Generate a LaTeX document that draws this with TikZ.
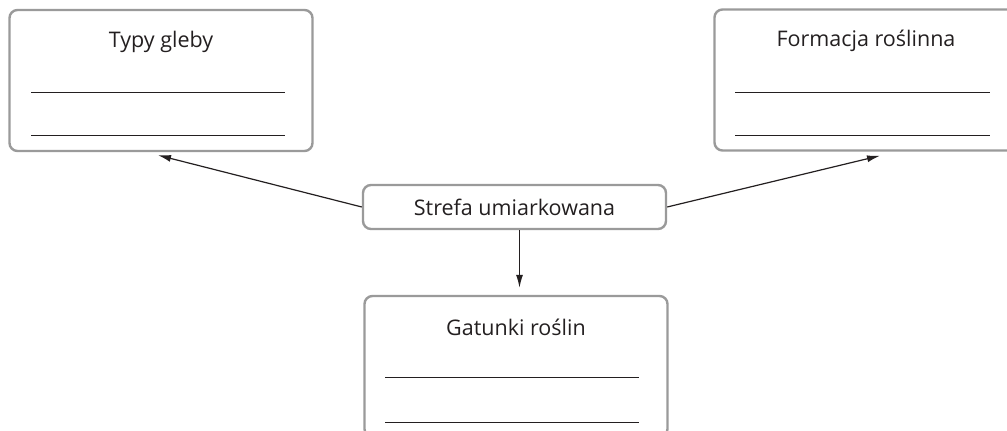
\documentclass[tikz,border=0pt]{standalone}
\usepackage{fontspec}
\setmainfont{Open Sans}
\usetikzlibrary{arrows.meta}
\definecolor{boxgray}{HTML}{9A9A9A}
\definecolor{ink}{HTML}{231F20}
\tikzset{
  box/.style={draw=boxgray, line width=2.4pt, rounded corners=8pt, minimum width=303pt, minimum height=141pt, inner sep=0pt},
  smallbox/.style={box, minimum height=44pt},
  title/.style={text=ink, font=\fontsize{21.5}{24}\selectfont, inner sep=0pt},
  blank/.style={draw=ink, line width=0.9pt},
  arr/.style={draw=ink, line width=1.2pt, -{Latex[length=13pt,width=7pt]}}
}
\begin{document}
\begin{tikzpicture}[x=1pt,y=-1pt]
\useasboundingbox (0,0) rectangle (1007,431);
\node[box] (typy) at (161,80.5) {};
\node[box] (form) at (866,80) {};
\node[box] (gat) at (516,366.5) {};
\node[smallbox] (strefa) at (514.5,207) {};
\node[title] at (strefa.center) {Strefa umiarkowana};
\node[title] at ([yshift=-33pt]typy.north) {Typy gleby};
\node[title] at ([yshift=-33pt]form.north) {Formacja roślinna};
\node[title] at ([yshift=-33pt]gat.north) {Gatunki roślin};
\draw[blank] ([shift={(23pt,-84pt)}]typy.north west) -- +(254,0);
\draw[blank] ([shift={(23pt,-127pt)}]typy.north west) -- +(254,0);
\draw[blank] ([shift={(22pt,-84pt)}]form.north west) -- +(255,0);
\draw[blank] ([shift={(22pt,-127pt)}]form.north west) -- +(255,0);
\draw[blank] ([shift={(22pt,-83pt)}]gat.north west) -- +(254,0);
\draw[blank] ([shift={(22pt,-128pt)}]gat.north west) -- +(254,0);
\draw[arr] (strefa.west) -- ([xshift=-3pt,yshift=-3pt]typy.south);
\draw[arr] (strefa.east) -- ([xshift=14pt,yshift=-4pt]form.south);
\draw[arr] ([xshift=5pt]strefa.south) -- ([xshift=5pt,yshift=7pt]strefa.south |- gat.north);
\end{tikzpicture}
\end{document}
